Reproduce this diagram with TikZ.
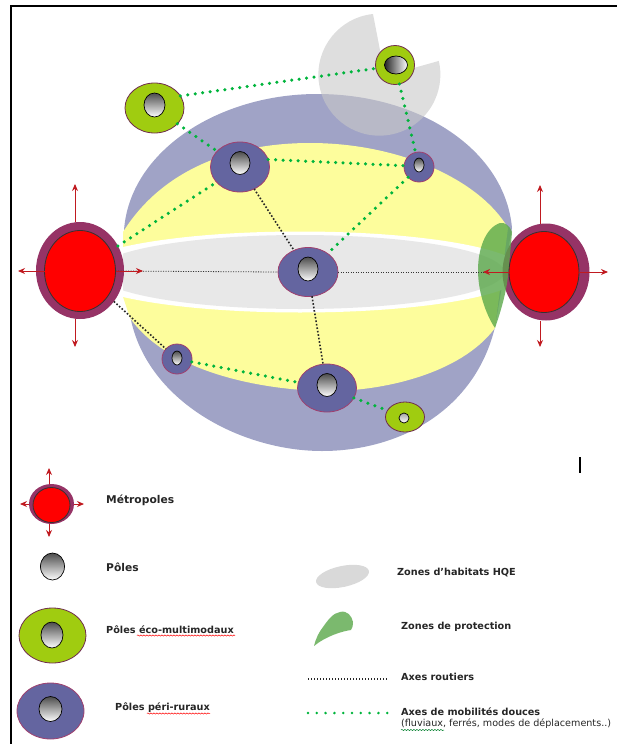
\documentclass[tikz,border=0pt]{standalone}
\usepackage{fontspec}
\setmainfont{DejaVu Sans}
\usepackage{xcolor}
\usetikzlibrary{shapes.geometric}
\usetikzlibrary{arrows.meta}
\usetikzlibrary{decorations.pathmorphing}
\definecolor{sphere}{HTML}{A0A3C6}
\definecolor{jaune}{HTML}{FDFD9C}
\definecolor{violet}{HTML}{6465A0}
\definecolor{bord}{HTML}{A0406E}
\definecolor{eco}{HTML}{A0CC10}
\definecolor{anneau}{HTML}{963366}
\definecolor{fleche}{HTML}{C01A20}
\definecolor{douce}{HTML}{00B43C}
\definecolor{prot}{HTML}{5AA84A}
\tikzset{
  oval/.style={ellipse,inner sep=0pt,outer sep=0pt},
  hole/.style={oval,draw=black,line width=0.7,top color=black!70,middle color=gray!8,bottom color=white},
  peri/.style={oval,fill=violet,draw=bord,line width=0.8},
  ecop/.style={oval,fill=eco,draw=bord!70!black,line width=0.8},
  ring/.style={oval,fill=anneau},
  metro/.style={oval,fill=red,draw=black!80,line width=0.8},
  axedouce/.style={douce,line width=3.5,line cap=round,dash pattern=on 0pt off 7.5pt},
  axeroute/.style={black!85,line width=1.6,dash pattern=on 1.6pt off 1.9pt},
  axefin/.style={black!80,line width=0.8,dash pattern=on 1.2pt off 1.3pt},
  sortie/.style={fleche,line width=0.9,-{Stealth[length=7pt,width=6pt]}},
  lab/.style={text=black!85,anchor=west,inner sep=0pt},
  big/.style={font=\bfseries\fontsize{10.7}{12}\selectfont},
  small/.style={font=\bfseries\fontsize{9.7}{11}\selectfont},
  squig/.style={line width=0.5,decorate,decoration={snake,amplitude=0.6pt,segment length=3pt}}
}
\begin{document}
\begin{tikzpicture}[x=1pt,y=-1pt]
\useasboundingbox (0,0) rectangle (617,744);
\draw [line width=2] (11,744) -- (11,6) -- (617,6);

\fill[sphere] (124,230) .. controls (130,150) and (220,94) .. (317,94)
  .. controls (420,94) and (505,150) .. (512,228) -- (495,327)
  .. controls (475,410) and (400,451) .. (322,451)
  .. controls (240,451) and (145,400) .. (130,315) -- cycle;
\fill[jaune] (123,232) .. controls (165,165) and (240,143) .. (310,143)
  .. controls (400,143) and (480,180) .. (508,228) -- (495,328)
  .. controls (460,375) and (380,391) .. (330,391)
  .. controls (270,391) and (170,375) .. (130,318) -- (123,297) -- cycle;
\begin{scope}
\clip (123,0) rectangle (510,744);
\fill[white] (300,272) ellipse [x radius=225,y radius=40.5];
\fill[gray!18] (300,272) ellipse [x radius=204,y radius=37];
\end{scope}
\fill[gray!43,fill opacity=0.6] (373,14) arc [start angle=-96,end angle=-373,radius=61] -- (385,76) -- cycle;

\node[ring,minimum width=88,minimum height=97] (metroL) at (80,270.5) {};
\node[ring,minimum width=87,minimum height=97] (metroR) at (546,272) {};
\fill[prot,fill opacity=0.8] (500,223) .. controls (485,228) and (478,250) .. (478,270)
  .. controls (478,295) and (488,318) .. (495,328) .. controls (503,305) and (508,285) .. (509,265)
  .. controls (510,255) and (511,245) .. (512,232) .. controls (510,226) and (505,222) .. (500,223);
\node[metro,minimum width=71,minimum height=81] (metroLin) at (80,271) {};
\node[metro,minimum width=70,minimum height=81] (metroRin) at (544,272) {};

\node[ecop,minimum width=59,minimum height=50] (eco1) at (154.5,108) {};
\node[ecop,minimum width=39,minimum height=39] (eco2) at (395,65) {};
\node[ecop,minimum width=39,minimum height=30] (eco3) at (405,417) {};
\node[peri,minimum width=59,minimum height=50] (peri1) at (240,167) {};
\node[peri,minimum width=30,minimum height=30] (peri2) at (419,167) {};
\node[peri,minimum width=60,minimum height=49] (peri3) at (308,272) {};
\node[peri,minimum width=59,minimum height=48] (peri4) at (327,388) {};
\node[peri,minimum width=30,minimum height=30] (peri5) at (177,359) {};

\node[hole,minimum width=21,minimum height=24] (h1) at (154.5,105) {};
\node[hole,minimum width=23,minimum height=18,left color=black!85,right color=white] (h2) at (396,65) {};
\node[hole,minimum width=10,minimum height=10,top color=gray!70,middle color=white,bottom color=white] (h3) at (404,418) {};
\node[hole,minimum width=20,minimum height=23] (h4) at (240,163) {};
\node[hole,minimum width=10,minimum height=14] (h5) at (419,165) {};
\node[hole,minimum width=20,minimum height=24] (h6) at (308,269) {};
\node[hole,minimum width=20,minimum height=23] (h7) at (327,385) {};
\node[hole,minimum width=10,minimum height=14] (h8) at (177,358) {};

\foreach \a/\b in {eco1.25/eco2.190,eco1/peri1,metroL/peri1,peri1.15/peri2.175,eco2/peri2,peri2/peri3,peri5/peri4,peri4/eco3}
  \draw[axedouce] (\a) -- (\b);
\foreach \a/\b in {peri1/peri3,metroL/peri5,peri3/peri4}
  \draw[axeroute] (\a) -- (\b);
\draw[axefin] (metroLin.east) -- (peri3.west);
\draw[axefin] (peri3.east) -- (metroRin.west);

\coordinate (lN) at (75,184);
\coordinate (lS) at (75,347);
\coordinate (lW) at (18,271);
\coordinate (lE) at (143,271);
\coordinate (rN) at (540,185);
\coordinate (rS) at (540,347);
\coordinate (rW) at (483,272);
\coordinate (rE) at (608,272);
\draw[sortie] (lN |- metroL.north) -- (lN);
\draw[sortie] (lS |- metroL.south) -- (lS);
\draw[sortie] (metroLin.west) -- (lW);
\draw[sortie] (metroLin.east) -- (lE);
\draw[sortie] (rN |- metroR.north) -- (rN);
\draw[sortie] (rS |- metroR.south) -- (rS);
\draw[sortie] (metroRin.west) -- (rW);
\draw[sortie] (metroRin.east) -- (rE);

\draw[line width=1.1] (580,457) -- (580,473);

\node[ring,minimum width=45,minimum height=40] (legM) at (51.5,504) {};
\node[metro,minimum width=37,minimum height=35] (legMin) at (51.5,505) {};
\coordinate (mN) at (49,468);
\coordinate (mS) at (49,537);
\coordinate (mW) at (20,504);
\coordinate (mE) at (84,504);
\draw[sortie] (mN |- legM.north) -- (mN);
\draw[sortie] (mS |- legM.south) -- (mS);
\draw[sortie] (legM.west) -- (mW);
\draw[sortie] (legM.east) -- (mE);
\node[lab,big] (tM) at (106,500) {Métropoles};

\node[hole,minimum width=24,minimum height=27] (legP) at (52.5,566.5) {};
\node[lab,big] (tP) at (106,567) {Pôles};

\node[ecop,minimum width=67,minimum height=55] (legE) at (52.5,635.5) {};
\node[hole,minimum width=22,minimum height=26] (legEh) at (52,635) {};
\node[lab,small] (tE) at (106,630) {Pôles éco-multimodaux};
\draw[squig,red] (137,635.5) -- (235,635.5);

\node[peri,minimum width=67,minimum height=56] (legR) at (50.5,711) {};
\node[hole,minimum width=23,minimum height=25] (legRh) at (50.5,709) {};
\node[lab,small] (tR) at (115,708) {Pôles péri-ruraux};
\draw[squig,red] (147,713.5) -- (210,713.5);

\node[oval,fill=gray!30,rotate=12,minimum width=54,minimum height=21] (legH) at (342.5,576.5) {};
\node[lab,small] (tH) at (397,573) {Zones d’habitats HQE};

\fill[prot!80!white] (314,646) .. controls (316,638) and (319,632) .. (323,627)
  .. controls (328,620) and (333,613) .. (340,612) .. controls (347,610) and (352,616) .. (353,622)
  .. controls (353,626) and (352,629) .. (351,630) .. controls (343,631) and (326,636) .. (314,646);
\node[lab,small] (tZ) at (401,627) {Zones de protection};

\coordinate (rA) at (308,679);
\coordinate (rB) at (388,679);
\draw[black!85,line width=1.2,dash pattern=on 1.4pt off 1.6pt] (rA) -- (rB);
\node[lab,small] (tA) at (401,677) {Axes routiers};

\coordinate (dA) at (308,713);
\coordinate (dB) at (388,713);
\draw[axedouce,line width=2.8,dash pattern=on 0pt off 8.8pt] (dA) -- (dB);
\node[lab,small] (tD) at (401,712) {Axes de mobilités douces};
\node[lab,font=\fontsize{9.6}{11}\selectfont] (tF) at (401,723.5) {(fluviaux, ferrés, modes de déplacements..)};
\draw[squig,douce!70!black] (401,730) -- (444,730);
\end{tikzpicture}
\end{document}
